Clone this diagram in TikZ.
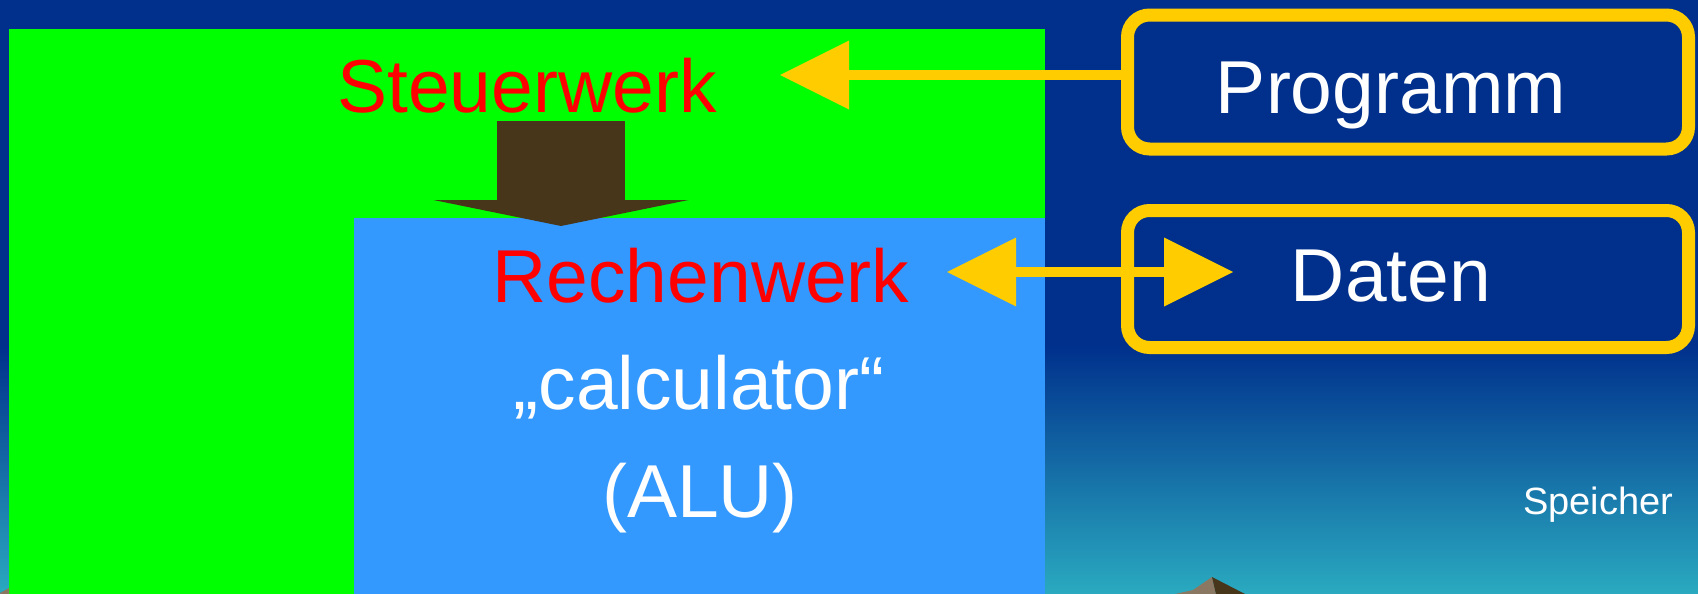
\documentclass[tikz,border=0pt]{standalone}
\usepackage{fontspec}
\setmainfont{Liberation Sans}
\usepackage{tikz}
\usetikzlibrary{arrows.meta,positioning,calc}
\definecolor{bgdark}{RGB}{0,48,140}
\definecolor{bgteal}{RGB}{42,170,192}
\definecolor{ctlgreen}{RGB}{0,255,0}
\definecolor{alublue}{RGB}{51,153,255}
\definecolor{ctlbrown}{RGB}{71,54,26}
\definecolor{ctlyellow}{RGB}{255,204,0}
\definecolor{rockgray}{RGB}{138,120,98}

\begin{document}
\begin{tikzpicture}[
  x=0.5pt, y=-0.5pt,
  panel/.style={inner sep=0pt, outer sep=0pt, anchor=north west},
  bigtext/.style={inner sep=0pt, anchor=base, font=\fontsize{37.5}{45}\selectfont},
  redlabel/.style={bigtext, text=red},
  whitelabel/.style={bigtext, text=white},
  slot/.style={draw=ctlyellow, line width=6.5pt, rounded corners=11pt, minimum width=280.5pt, inner sep=0pt},
  yarrow/.style={-{Triangle[length=34.5pt, width=34.5pt, line width=0pt]}, line width=5pt, draw=ctlyellow},
  ydouble/.style={yarrow, {Triangle[length=34.5pt, width=34.5pt, line width=0pt]}-{Triangle[length=34.5pt, width=34.5pt, line width=0pt]}},
  ctlflow/.style={-{Triangle[length=13pt, width=127.5pt, line width=0pt]}, line width=64pt, draw=ctlbrown}
]
\useasboundingbox (0,0) rectangle (1698,594);
\fill[bgdark] (0,0) rectangle (1698,346);
\shade[top color=bgdark, bottom color=bgteal] (0,345) rectangle (1698,594);

\node[panel, fill=ctlgreen, minimum width=518pt, minimum height=282.5pt] (cu) at (9,29) {};
\node[panel, fill=alublue, minimum width=345.5pt, minimum height=188pt] (alu) at (354,218) {};

\coordinate (ctlout) at (561,121);
\coordinate (aluin) at (561,226);
\draw[ctlflow] (ctlout) -- (aluin);

\node[redlabel] (steuer) at (527,112) {Steuerwerk};
\node[redlabel] (rechen) at (701,302) {Rechenwerk};
\node[whitelabel] (calc) at (699,409) {„calculator“};
\node[whitelabel] (alutxt) at (700,517) {(ALU)};

\node[slot, minimum height=67pt] (prog) at (1408,82) {};
\node[whitelabel] (progtxt) at (1391,113) {Programm};
\node[slot, minimum height=68.5pt] (daten) at (1408,279) {};
\node[whitelabel] (datentxt) at (1391,301) {Daten};

\coordinate (stin) at (780,75);
\draw[yarrow] (stin -| prog.west) -- (stin);
\coordinate (rwin) at (947,272);
\coordinate (dtin) at (1233,272);
\draw[ydouble] (rwin) -- (dtin);

\node[inner sep=0pt, anchor=base, text=white, font=\fontsize{19}{22}\selectfont] (mem) at (1598,514) {Speicher};

\fill[rockgray] (1175,594) -- (1193,590) -- (1212,577) -- (1216,594) -- cycle;
\fill[ctlbrown] (1212,577) -- (1245,594) -- (1216,594) -- cycle;
\fill[rockgray] (0,593) -- (9,588) -- (9,594) -- (0,594) -- cycle;
\end{tikzpicture}
\end{document}
